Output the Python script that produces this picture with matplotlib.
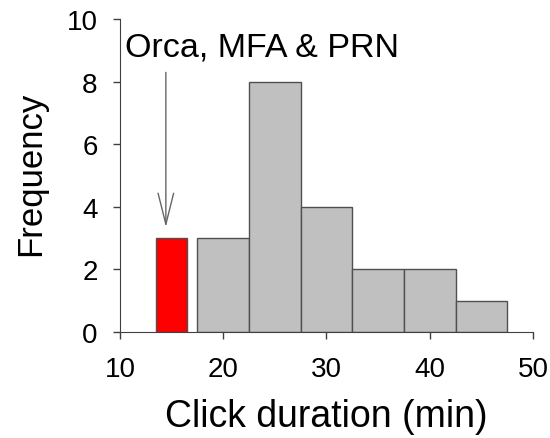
import matplotlib
matplotlib.use("Agg")
import matplotlib.pyplot as plt

plt.rcParams["font.family"] = ["Liberation Sans", "DejaVu Sans"]

# histogram bins (minutes) and counts
gray_left = [17.5, 22.5, 27.5, 32.5, 37.5, 42.5]
gray_counts = [3, 8, 4, 2, 2, 1]
red_left = [13.5]
red_counts = [3]
bin_width = 5
red_width = 3

x_ticks = [10, 20, 30, 40, 50]
y_ticks = [0, 2, 4, 6, 8, 10]

fig = plt.figure(figsize=(5.5, 4.39), dpi=100)
ax = fig.add_axes([0.218, 0.2415, 0.751, 0.7125])

ax.bar(gray_left, gray_counts, width=bin_width, align="edge",
       color="#C0C0C0", edgecolor="#505050", linewidth=1.0)
ax.bar(red_left, red_counts, width=red_width, align="edge",
       color="#FF0000", edgecolor="#505050", linewidth=1.0)

# arrow + label
ax.annotate("", xy=(14.45, 3.35), xytext=(14.45, 8.3),
            arrowprops=dict(arrowstyle="->, head_length=0.8, head_width=0.2",
                            color="#666666", lw=1.0, mutation_scale=28,
                            shrinkA=0, shrinkB=0))
ax.text(10.5, 9.12, "Orca, MFA & PRN", fontsize=24.5, ha="left", va="center")

ax.set_xlim(10, 50)
ax.set_ylim(0, 10)
ax.set_xticks(x_ticks)
ax.set_yticks(y_ticks)
ax.tick_params(length=5, width=1, color="#404040")
ax.tick_params(axis="x", labelsize=20, pad=12)
ax.tick_params(axis="y", labelsize=20, pad=11)

for s in ["top", "right"]:
    ax.spines[s].set_visible(False)
for s in ["left", "bottom"]:
    ax.spines[s].set_color("#404040")

ax.set_xlabel("Click duration (min)", fontsize=27, labelpad=12)
ax.set_ylabel("Frequency", fontsize=25)
ax.yaxis.set_label_coords(-0.177, 0.508)

fig.savefig("out.png", dpi=100)
